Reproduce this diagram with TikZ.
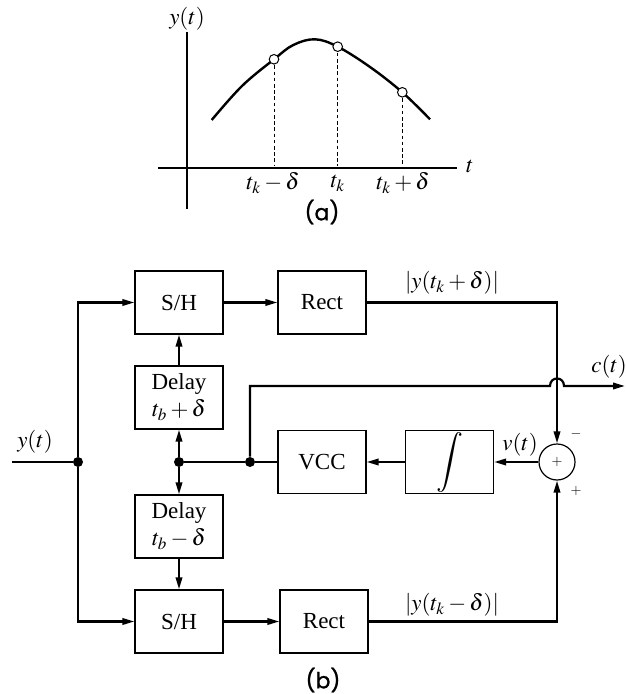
\documentclass[tikz,border=0pt]{standalone}
\usepackage{mathptmx}
\usepackage[no-math]{fontspec}
\setmainfont{Liberation Serif}
\newfontfamily\capfont[FakeBold=1.2]{Poppins}
\usetikzlibrary{arrows.meta}
\begin{document}
\begin{tikzpicture}[x=0.5pt,y=-0.5pt,>={Triangle[length=6pt,width=3.2pt]},font=\fontsize{11.5}{13.5}\selectfont,
  block/.style={draw,line width=0.6pt,minimum width=44pt,minimum height=31.5pt,inner sep=0pt,align=center},
  sig/.style={line width=1.1pt},
  dot/.style={circle,fill,inner sep=0pt,minimum size=5pt},
  sample/.style={draw,fill=white,line width=0.5pt}]
\clip (0,0) rectangle (626,694);
% (a) the sampled waveform
\draw[line width=0.7pt] (187,32) -- (187,209);
\draw[line width=0.7pt] (158,168) -- (457,168);
\node (ya) at (187,19) {$y(t)$};
\node (ta) at (470,166) {$t$};
\coordinate (p1) at (274,59.3);
\coordinate (p2) at (337.7,46.7);
\coordinate (p3) at (402.3,92.3);
\draw[line width=1.2pt] plot[smooth,tension=0.6] coordinates {(211.7,120) (242,86) (p1) (293.3,45)
  (315,39.3) (p2) (370,67) (p3) (430,119.3)};
\foreach \p in {p1,p2,p3}
  \draw[dashed,dash pattern=on 1.8pt off 1.3pt,line width=0.5pt] (\p) -- (\p |- ta.west);
\foreach \p in {p1,p2,p3}
  \draw[sample] (\p) circle[radius=2.4pt];
\node (l1) at (273,183) {$t_k - \delta$};
\node (l2) at (338,183) {$t_k$};
\node (l3) at (403,183) {$t_k + \delta$};
\node[font=\capfont\fontsize{11}{13}\selectfont] (capa) at (322,212) {(a)};
% (b) the tracking loop
\node[block] (sh1) at (179,302.5) {S/H};
\node[block] (rc1) at (322,302.5) {Rect};
\node[block] (dl1) at (179,397.5) {Delay\\$t_b + \delta$};
\node[block] (vcc) at (322,462) {VCC};
\node[block,font=\fontsize{15}{17}\selectfont] (int) at (449.5,462) {$\displaystyle\int$};
\node[circle,draw,line width=0.6pt,minimum size=18pt,inner sep=0pt,font=\scriptsize] (sum) at (557,462) {$+$};
\node[block] (dl2) at (179,526.5) {Delay\\$t_b - \delta$};
\node[block] (sh2) at (179,621.5) {S/H};
\node[block] (rc2) at (324,621.5) {Rect};
\node[dot] (j1) at (78,462) {};
\node[dot] (j2) at (179,462) {};
\node[dot] (j3) at (250,462) {};
\coordinate (in) at (12,462);
\coordinate (ct) at (250,386);
\coordinate (bl) at (550,386);
\coordinate (br) at (564,386);
\coordinate (out) at (625,386);
\draw[sig] (in) -- (j1);
\draw[sig,->] (j1) |- (sh1);
\draw[sig,->] (j1) |- (sh2);
\draw[sig,->] (sh1) -- (rc1);
\draw[sig,->] (sh2) -- (rc2);
\draw[sig,->] (j2) -- (dl1);
\draw[sig,->] (dl1) -- (sh1);
\draw[sig,->] (j2) -- (dl2);
\draw[sig,->] (dl2) -- (sh2);
\draw[sig] (vcc) -- (j3) -- (j2);
\draw[sig,->] (int) -- (vcc);
\draw[sig,->] (sum) -- (int);
\draw[sig,->] (rc1) -| (sum);
\draw[sig,->] (rc2) -| (sum);
\draw[sig,->] (j3) -- (ct) -- (bl) .. controls (550,376) and (564,376) .. (br) -- (out);
\node (yin) at (35,442) {$y(t)$};
\node (vt) at (520,445) {$v(t)$};
\node (cout) at (609,367) {$c(t)$};
\node (lp) at (452,283) {$|y(t_k + \delta)|$};
\node (lm) at (452,605) {$|y(t_k - \delta)|$};
\node[font=\scriptsize] (mn) at (576,434) {$-$};
\node[font=\scriptsize] (pl) at (576,491) {$+$};
\node[font=\capfont\fontsize{11}{13}\selectfont] (capb) at (323,680) {(b)};
\end{tikzpicture}
\end{document}
